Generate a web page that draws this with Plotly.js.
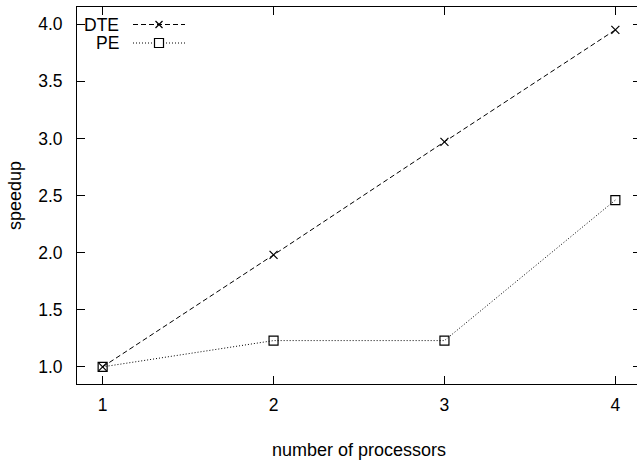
<!DOCTYPE html>
<html>
<head>
<meta charset="utf-8">
<script src="https://cdn.plot.ly/plotly-3.0.1.min.js"></script>
<style>
  html, body { margin: 0; padding: 0; overflow: hidden; background: #fff; }
  #chart { width: 645px; height: 467px; }
</style>
</head>
<body>
<div id="chart"></div>
<script>
// Speedup measured for 1..4 processors
const processors = [1, 2, 3, 4];
const dteSpeedup = [1.0, 1.98, 2.97, 3.95];
const peSpeedup = [1.0, 1.23, 1.23, 2.46];
const seriesNames = ['DTE', 'PE'];
const yTicks = [1.0, 1.5, 2.0, 2.5, 3.0, 3.5, 4.0];

const FONT = 'Liberation Sans, Arial, Helvetica, sans-serif';
const W = 645, H = 467;
const M = { l: 77, r: 4, t: 7, b: 83 };
const plotW = W - M.l - M.r, plotH = H - M.t - M.b;
const px = v => (v - M.l) / plotW;        // pixel x -> paper x
const py = v => (H - M.b - v) / plotH;    // pixel y -> paper y

const traces = [
  {
    x: processors, y: dteSpeedup, name: seriesNames[0], type: 'scatter', mode: 'lines+markers',
    line: { color: '#000', width: 1, dash: '5px,3px' },
    marker: { symbol: 'x-thin-open', size: 8, color: '#000', line: { color: '#000', width: 1.2 } },
    showlegend: false
  },
  {
    x: processors, y: peSpeedup, name: seriesNames[1], type: 'scatter', mode: 'lines+markers',
    line: { color: '#000', width: 1, dash: '1px,2px' },
    marker: { symbol: 'square-open', size: 9, color: '#000', line: { color: '#000', width: 1.2 } },
    showlegend: false
  }
];

// gnuplot-style key: label on the left, sample on the right
const keyRows = [
  { label: seriesNames[0], y: 24.5, dash: '5px,3px', marker: 'x' },
  { label: seriesNames[1], y: 43, dash: '1px,2px', marker: 'square' }
];
const shapes = [];
const annotations = [];
keyRows.forEach(r => {
  annotations.push({
    xref: 'paper', yref: 'paper', x: px(121), y: py(r.y), xanchor: 'right', yanchor: 'middle',
    text: r.label, showarrow: false, font: { family: FONT, size: 17.5, color: '#000' }
  });
  shapes.push({
    type: 'line', xref: 'paper', yref: 'paper', x0: px(133), x1: px(185), y0: py(r.y), y1: py(r.y),
    line: { color: '#000', width: 1, dash: r.dash }
  });
  const cx = 159, cy = r.y, h = 4.5;
  if (r.marker === 'x') {
    shapes.push({ type: 'line', xref: 'paper', yref: 'paper', x0: px(cx - 3.5), x1: px(cx + 3.5), y0: py(cy - 3.5), y1: py(cy + 3.5), line: { color: '#000', width: 1.2 } });
    shapes.push({ type: 'line', xref: 'paper', yref: 'paper', x0: px(cx - 3.5), x1: px(cx + 3.5), y0: py(cy + 3.5), y1: py(cy - 3.5), line: { color: '#000', width: 1.2 } });
  } else {
    shapes.push({ type: 'rect', xref: 'paper', yref: 'paper', x0: px(cx - h), x1: px(cx + h), y0: py(cy + h), y1: py(cy - h), fillcolor: '#fff', line: { color: '#000', width: 1.2 } });
  }
});

const layout = {
  width: W, height: H,
  margin: M,
  paper_bgcolor: '#fff', plot_bgcolor: '#fff',
  font: { family: FONT, size: 17.5, color: '#000' },
  showlegend: false,
  xaxis: {
    range: [0.85, 4.15], tickvals: processors, ticktext: processors.map(String),
    ticks: 'inside', ticklen: 8, tickwidth: 1, tickcolor: '#000',
    showline: true, linecolor: '#000', linewidth: 1, mirror: 'allticks',
    showgrid: false, zeroline: false, ticklabelstandoff: 5,
    title: { text: 'number of processors', font: { family: FONT, size: 18 }, standoff: 29 }
  },
  yaxis: {
    range: [0.85, 4.15], tickvals: yTicks, tickformat: '.1f',
    ticks: 'inside', ticklen: 8, tickwidth: 1, tickcolor: '#000',
    showline: true, linecolor: '#000', linewidth: 1, mirror: 'allticks',
    showgrid: false, zeroline: false, ticklabelstandoff: 10,
    title: { text: 'speedup', font: { family: FONT, size: 18 }, standoff: 11 }
  },
  shapes: shapes,
  annotations: annotations
};

Plotly.newPlot('chart', traces, layout, { displayModeBar: false, staticPlot: true });
</script>
</body>
</html>
